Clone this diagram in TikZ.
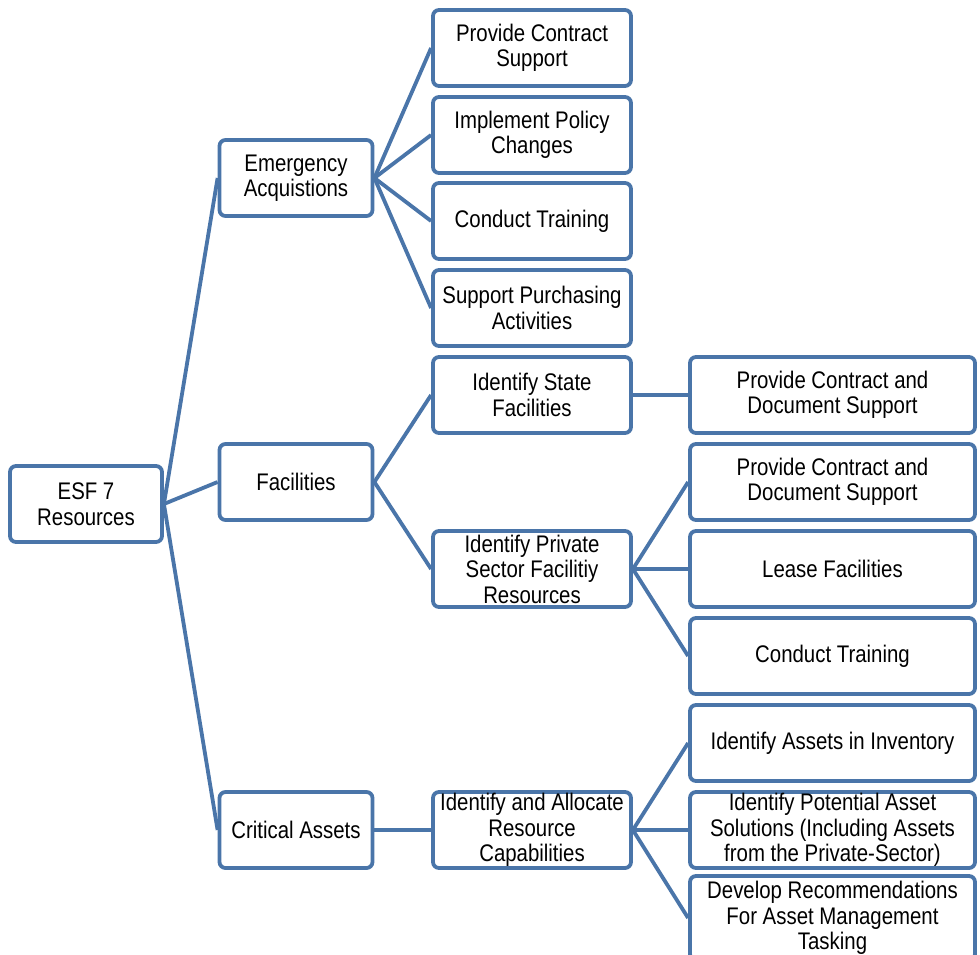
\documentclass[tikz,border=0pt]{standalone}
\usepackage{fontspec}
\setmainfont[FakeStretch=0.85]{Liberation Sans}
\usetikzlibrary{positioning}
\definecolor{esfblue}{HTML}{4A75A9}

\begin{document}
\begin{tikzpicture}[x=1pt,y=-1pt,
			box/.style={draw=esfblue,line width=3.8pt,rounded corners=6pt,
				minimum height=76pt,inner sep=0pt,align=center,
				font=\fontsize{24}{25.5}\selectfont},
			sbox/.style={box,minimum width=153pt},
			mbox/.style={box,minimum width=198pt},
			lbox/.style={box,minimum width=285pt},
			link/.style={draw=esfblue,line width=3.8pt}]
			\useasboundingbox (0,0) rectangle (980,954);
			\clip (0,0) rectangle (980,954);
			% root and first level
			\node (esf) [sbox,minimum width=152pt] at (86,504) {ESF 7\\Resources};
			\node (emerg) [sbox] at (296,178) {Emergency\\Acquistions};
			\node (fac) [sbox] at (296,482) {Facilities};
			\node (crit) [sbox] at (296,830) {Critical Assets};
			% second level
			\node (pcs) [mbox] at (532,48) {Provide Contract\\Support};
			\node (ipc) [mbox] at (532,135) {Implement Policy\\Changes};
			\node (ctea) [mbox] at (532,221) {Conduct Training};
			\node (spa) [mbox] at (532,308) {Support Purchasing\\Activities};
			\node (isf) [mbox] at (532,395) {Identify State\\Facilities};
			\node (ipsf) [mbox] at (532,569) {Identify Private\\Sector Facilitiy\\Resources};
			\node (iarc) [mbox] at (532,830) {Identify and Allocate\\Resource\\Capabilities};
			% third level
			\node (pcdsa) [lbox] at (832.5,395) {Provide Contract and\\Document Support};
			\node (pcdsb) [lbox] at (832.5,482) {Provide Contract and\\Document Support};
			\node (lease) [lbox] at (832.5,569) {Lease Facilities};
			\node (ctfac) [lbox] at (832.5,656) {Conduct Training};
			\node (iai) [lbox] at (832.5,743) {Identify Assets in Inventory};
			\node (ipas) [lbox] at (832.5,830) {Identify Potential Asset\\Solutions (Including Assets\\from the Private-Sector)};
			\node (drec) [lbox,minimum height=84pt] at (832.5,918) {Develop Recommendations\\For Asset Management\\Tasking};
			% connectors
			\foreach \kid in {emerg,fac,crit}
				\draw [link] (esf.east) -- (\kid.west);
			\foreach \kid in {pcs,ipc,ctea,spa}
				\draw [link] (emerg.east) -- (\kid.west);
			\foreach \kid in {isf,ipsf}
				\draw [link] (fac.east) -- (\kid.west);
			\draw [link] (crit.east) -- (iarc.west);
			\draw [link] (isf.east) -- (pcdsa.west);
			\foreach \kid in {pcdsb,lease,ctfac}
				\draw [link] (ipsf.east) -- (\kid.west);
			\foreach \kid in {iai,ipas,drec}
				\draw [link] (iarc.east) -- (\kid.west);
		\end{tikzpicture}
\end{document}
